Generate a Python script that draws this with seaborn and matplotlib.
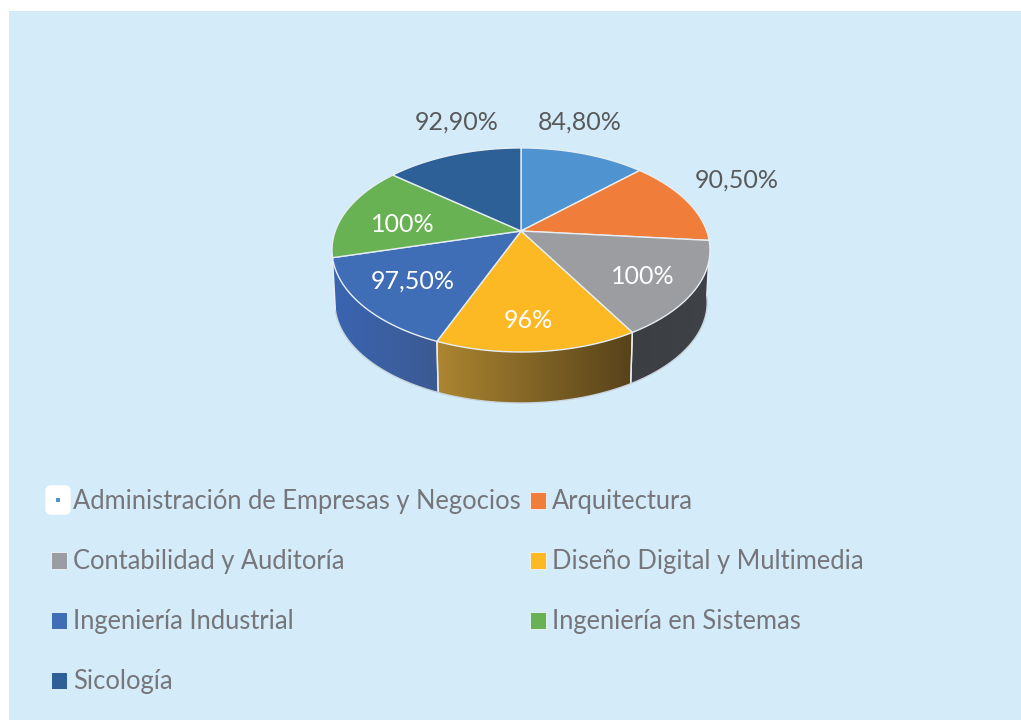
import numpy as np
import matplotlib
matplotlib.use("Agg")
import matplotlib.pyplot as plt
from matplotlib.patches import Polygon, Rectangle, FancyBboxPatch
import seaborn as sns

# data
carreras = ["Administración de Empresas y Negocios", "Arquitectura",
            "Contabilidad y Auditoría", "Diseño Digital y Multimedia",
            "Ingeniería Industrial", "Ingeniería en Sistemas", "Sicología"]
valores = [84.8, 90.5, 100, 96, 97.5, 100, 92.9]
etiquetas = ["84,80%", "90,50%", "100%", "96%", "97,50%", "100%", "92,90%"]
colores = ["#4F94D0", "#F07D39", "#9C9DA1", "#FDB924", "#3F6DB6", "#69B253", "#2C6096"]

sns.set_theme(style="white")
plt.rcParams["font.family"] = ["Lato", "DejaVu Sans"]
paleta = sns.color_palette(colores)

fig = plt.figure(figsize=(10.21, 7.2), dpi=100, facecolor="white")
ax = fig.add_axes([0, 0, 1, 1])
ax.add_patch(Rectangle((9, 11), 1012, 709, fc="#D4ECFA", ec="none", zorder=0))

# fake 3D pie: perspective projection of a disc
CX, CY, RX, RY, K = 521, 231, 185.7, 98.5, 0.186
CY_BASE, ESC_BASE = 283.8, 0.985


def proyecta(theta, cy=CY, esc=1.0):
    u, v = np.sin(theta), np.cos(theta)
    s = esc / (1 + K * v)
    return CX + RX * u * s, cy - RY * v * s


limites = np.cumsum([0] + valores) / sum(valores) * 2 * np.pi

# side walls, only the ones that can be seen
paredes = {2: ("#3B3E42", "#3F4246"), 3: ("#AB8530", "#57421A"), 4: ("#3A65B2", "#3C5A92")}
for i, (c_izq, c_der) in paredes.items():
    ini = max(limites[i], np.radians(97))
    fin = min(limites[i + 1], np.radians(268))
    th = np.linspace(ini, fin, 60)
    xa, ya = proyecta(th)
    xb, yb = proyecta(th, CY_BASE, ESC_BASE)
    pts = np.vstack([np.c_[xa, ya], np.c_[xb, yb][::-1]])
    x0, x1, y0, y1 = pts[:, 0].min(), pts[:, 0].max(), pts[:, 1].min(), pts[:, 1].max()
    t = np.linspace(0, 1, 128)[:, None]
    a, b = np.array(matplotlib.colors.to_rgb(c_izq)), np.array(matplotlib.colors.to_rgb(c_der))
    grad = (a * (1 - t) + b * t)[None, :, :]
    im = ax.imshow(grad, extent=(x0, x1, y1, y0), aspect="auto", zorder=1)
    im.set_clip_path(Polygon(pts, transform=ax.transData))
    ax.plot([xa[0], xb[0]], [ya[0], yb[0]], color="#E8EEF2", lw=1, zorder=2)
    ax.plot([xa[-1], xb[-1]], [ya[-1], yb[-1]], color="#E8EEF2", lw=1, zorder=2)
    ax.plot(xb, yb, color="#C8D4DC", lw=1, zorder=2)

# top face
for i, color in enumerate(paleta):
    th = np.linspace(limites[i], limites[i + 1], 80)
    xa, ya = proyecta(th)
    pts = np.vstack([[CX, CY], np.c_[xa, ya]])
    ax.add_patch(Polygon(pts, closed=True, fc=color, ec="#E6EEF3", lw=1, zorder=3))

# data labels
pos_etq = [(580, 122), (737, 180), (643, 276), (528, 321), (413, 281), (403, 224), (457, 122)]
col_etq = ["#595959", "#595959", "white", "white", "white", "white", "#595959"]
for txt, (x, y), c in zip(etiquetas, pos_etq, col_etq):
    ax.text(x, y, txt, color=c, fontsize=18, ha="center", va="center", zorder=5)

# legend, two columns
for i, (nombre, color) in enumerate(zip(carreras, paleta)):
    fila, col = i // 2, i % 2
    y = 501 + fila * 60
    x_txt = 73 if col == 0 else 552
    if i == 0:
        ax.add_patch(FancyBboxPatch((46, 486), 24, 28, boxstyle="round,pad=0,rounding_size=5",
                                    mutation_aspect=1, fc="white", ec="white", lw=1, zorder=3))
        ax.add_patch(Rectangle((56, 498), 4, 4, fc=color, ec="none", zorder=4))
    else:
        ax.add_patch(Rectangle((x_txt - 22.5, y - 9.5), 16, 17, fc=color, ec="#EEF6FB", lw=0.6, zorder=4))
    ax.text(x_txt, y, nombre, color="#76767A", fontsize=18.4, ha="left", va="center", zorder=5)

ax.set_xlim(0, 1021)
ax.set_ylim(720, 0)
ax.set_aspect("auto")
ax.axis("off")

fig.savefig("out.png", dpi=100, facecolor="white")
